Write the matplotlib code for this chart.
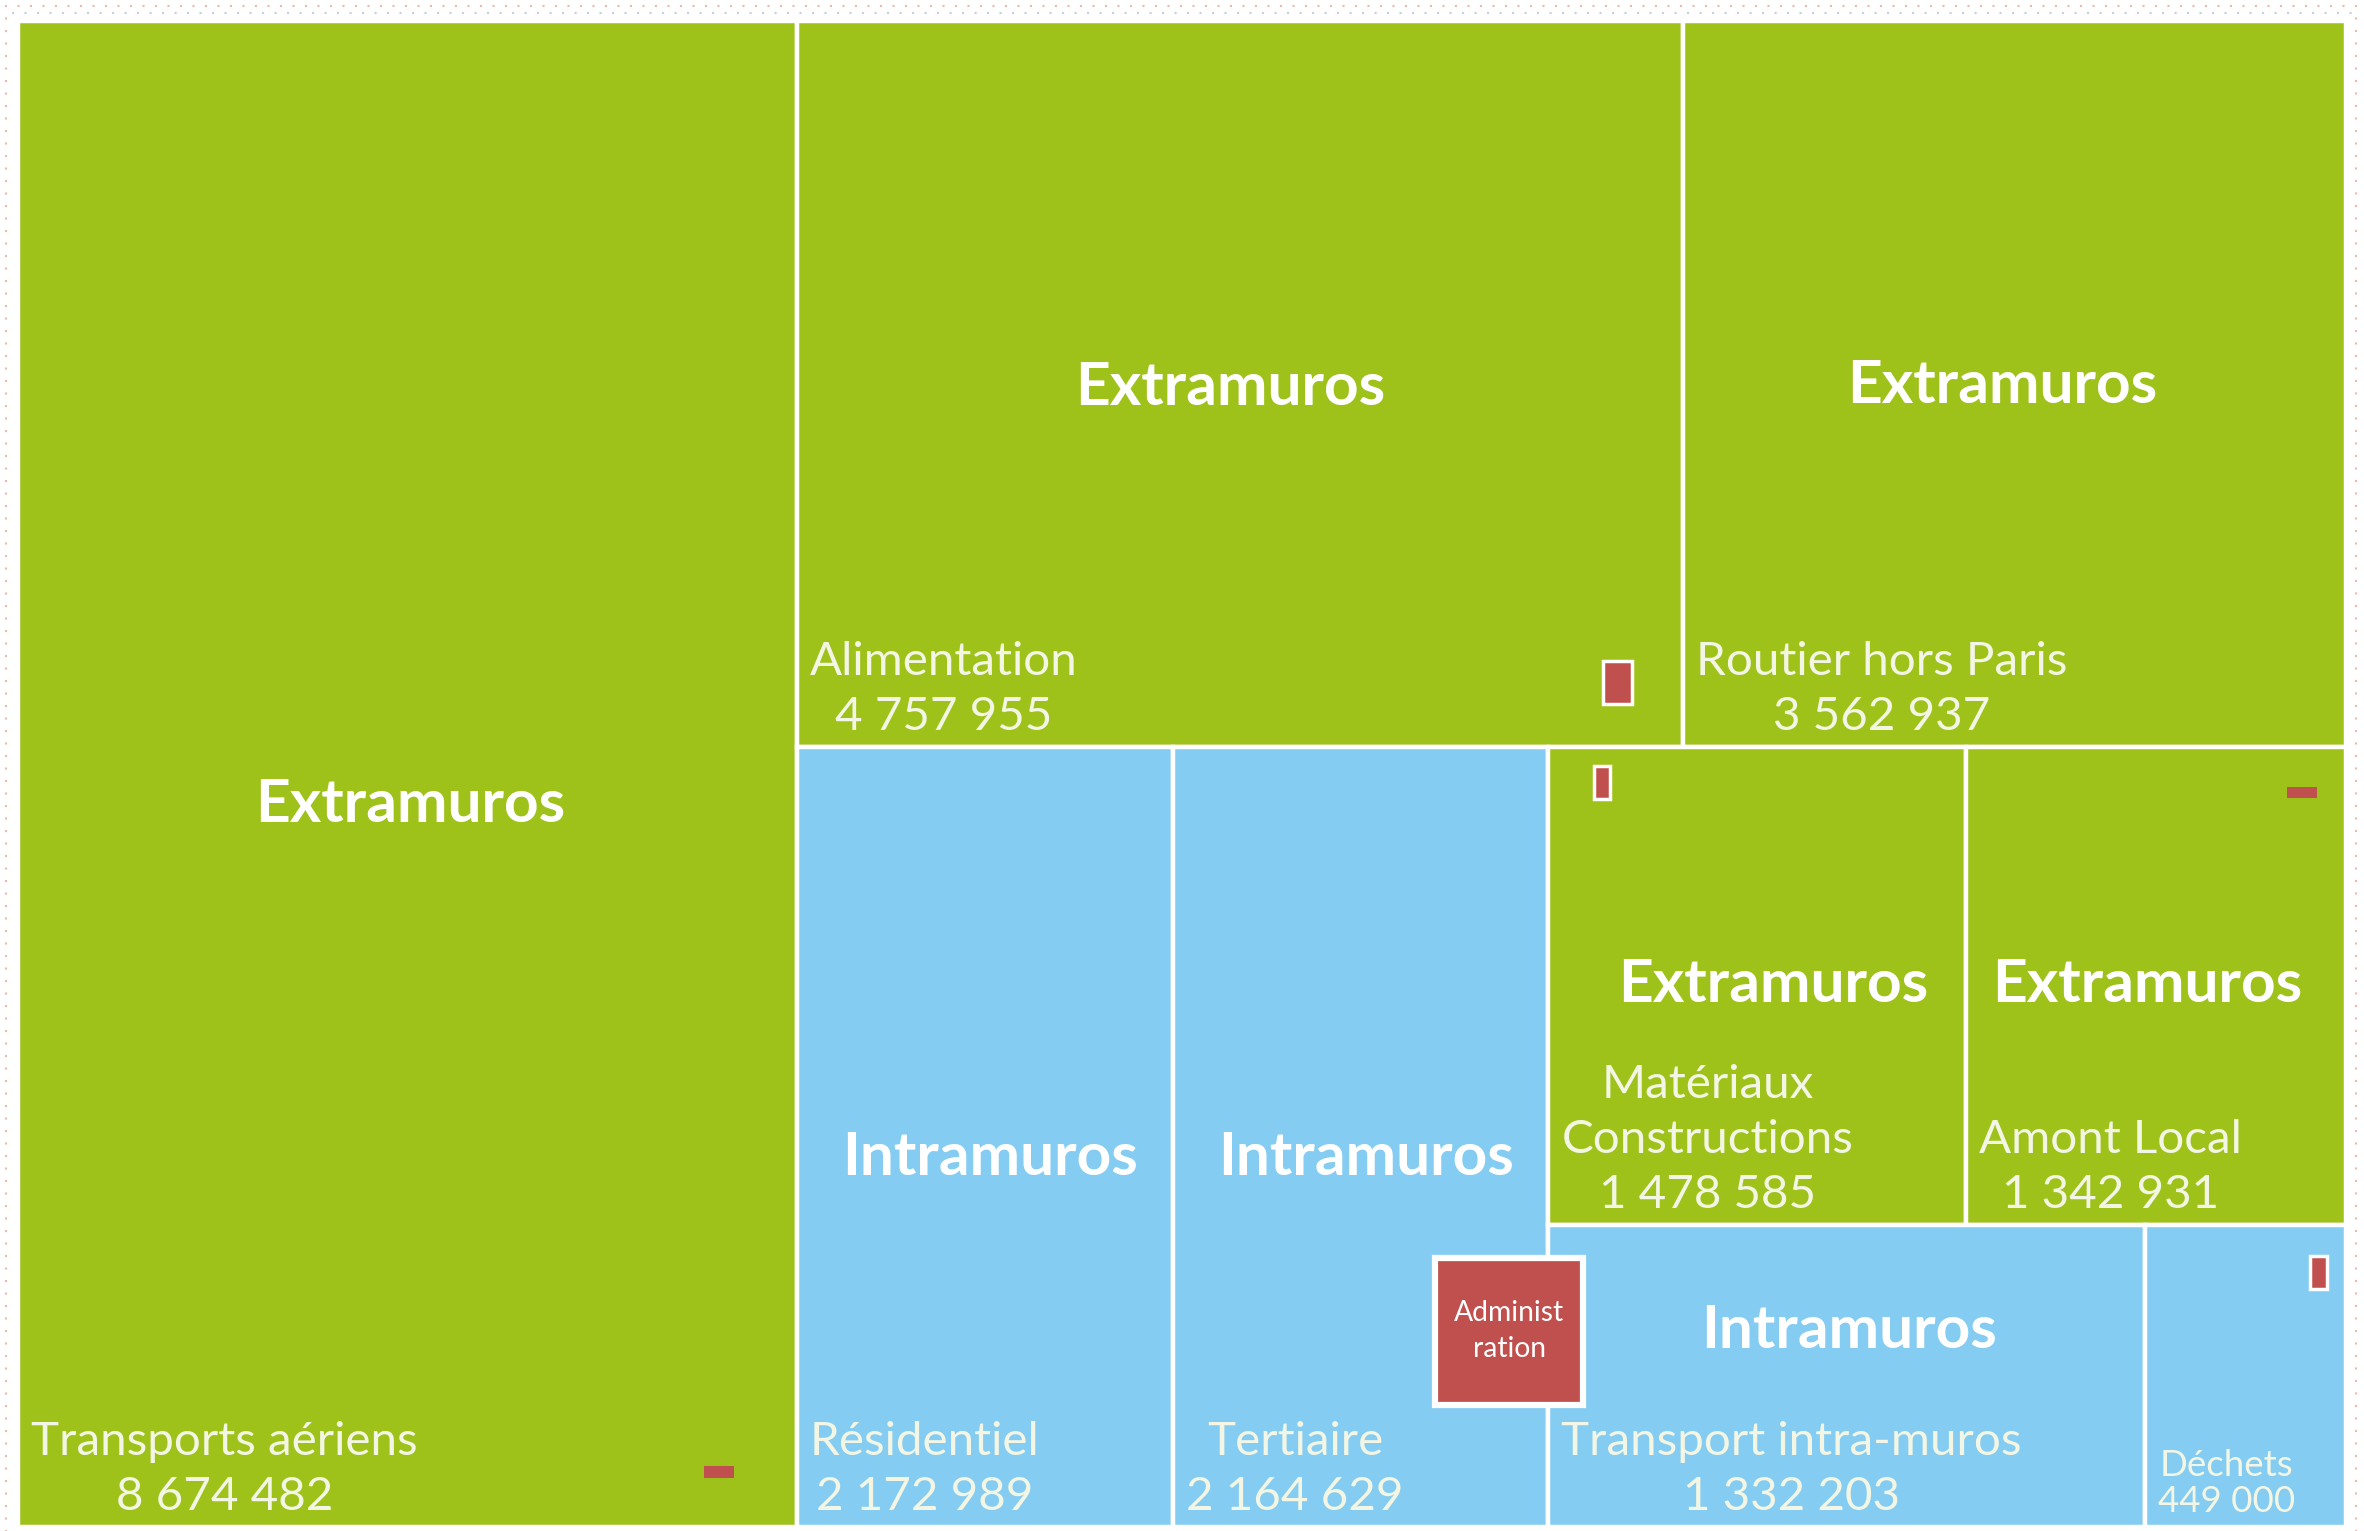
import matplotlib
matplotlib.use("Agg")
import matplotlib.pyplot as plt
from matplotlib.patches import Rectangle

# data
labels = ["Transports aériens", "Alimentation", "Routier hors Paris", "Résidentiel",
          "Tertiaire", "Matériaux\nConstructions", "Amont Local",
          "Transport intra-muros", "Déchets"]
values = [8674482, 4757955, 3562937, 2172989, 2164629, 1478585, 1342931, 1332203, 449000]
groups = ["Extramuros", "Extramuros", "Extramuros", "Intramuros", "Intramuros",
          "Extramuros", "Extramuros", "Intramuros", "Intramuros"]

group_colors = {"Extramuros": "#9FC21B", "Intramuros": "#84CCF1"}
red = "#C0504D"

# nesting of the treemap: 'h' = side by side, 'v' = stacked
layout = ("h", [0, ("v", [("h", [1, 2]),
                          ("h", [3, 4, ("v", [("h", [5, 6]), ("h", [7, 8])])])])])

# small nudges of the big group titles (px)
header_shift = [(3, 31), (-9, 4), (-12, 2), (5, 21), (5, 21), (16, -1), (-9, -1), (2, -45), (0, 0)]

plt.rcParams["font.family"] = ["Lato", "DejaVu Sans"]

W, H = 2328, 1506
fig = plt.figure(figsize=(23.64, 15.31), dpi=100)
ax = fig.add_axes([18 / 2364, 1 - 1527 / 1531, W / 2364, H / 1531])
ax.set_xlim(0, W)
ax.set_ylim(H, 0)
ax.axis("off")


def total(node):
    if isinstance(node, int):
        return values[node]
    return sum(total(c) for c in node[1])


rects = {}


def place(node, x, y, w, h):
    if isinstance(node, int):
        rects[node] = (x, y, w, h)
        return
    kind, children = node
    s = total(node)
    for c in children:
        frac = total(c) / s
        if kind == "h":
            place(c, x, y, w * frac, h)
            x += w * frac
        else:
            place(c, x, y, w, h * frac)
            y += h * frac


place(layout, 0, 0, W, H)

for i, (x, y, w, h) in rects.items():
    ax.add_patch(Rectangle((x, y), w, h, facecolor=group_colors[groups[i]],
                           edgecolor="white", linewidth=3.2))
    small = w < 300
    if not small:
        dx, dy = header_shift[i]
        ax.text(x + w / 2 + dx, y + h / 2 + dy, groups[i], ha="center", va="center",
                color="white", fontsize=43.5, fontweight="bold")
    txt = labels[i] + "\n" + f"{values[i]:,}".replace(",", " ")
    ax.text(x + 13, y + h - 9, txt, ha="left", va="bottom", multialignment="center",
            color="#F3F6E4", fontsize=26.5 if small else 34.2,
            linespacing=1.1 if small else 1.38)

# little red markers: host cell, corner, centre offset (px), size (px), white border
marks = [
    (1, "br", (-65, -64), (33, 47), True),
    (5, "tl", (54, 36), (20, 37), True),
    (6, "tr", (-44, 46), (30, 11), False),
    (0, "br", (-78, -55), (30, 12), False),
    (8, "tr", (-27, 47), (21, 37), True),
]


def corner(i, c):
    x, y, w, h = rects[i]
    cx = x + w if "r" in c else x
    cy = y + h if "b" in c else y
    return cx, cy


for host, c, (ox, oy), (mw, mh), border in marks:
    cx, cy = corner(host, c)
    cx, cy = cx + ox, cy + oy
    b = 4 if border else 0
    ax.add_patch(Rectangle((cx - mw / 2 + b / 2, cy - mh / 2 + b / 2), mw - b, mh - b,
                           facecolor=red, edgecolor="white" if border else red,
                           linewidth=2.5 if border else 0, zorder=3))

# Administration box sitting on the Tertiaire / Transport intra-muros corner
cx, cy = corner(7, "tl")
cx, cy = cx - 39, cy + 106
ax.add_patch(Rectangle((cx - 74, cy - 73), 148, 147, facecolor=red,
                       edgecolor="white", linewidth=4.5, zorder=4))
ax.text(cx, cy, "Administ\nration", ha="center", va="center", color="white",
        fontsize=20.3, linespacing=1.45, zorder=5)

# dotted frame around the slide
fig.add_artist(Rectangle((6 / 2364, -0.01), 2350 / 2364, 1 - 6 / 1531 + 0.01,
                         transform=fig.transFigure, fill=False, edgecolor="#EDB9A8",
                         linestyle=(0, (1, 5)), linewidth=1.5))
fig.add_artist(plt.Line2D([0.005, 0.995], [1 - 13 / 1531] * 2, transform=fig.transFigure,
                          color="#C9CCDA", linestyle=(0, (1, 5)), linewidth=1.5))

fig.savefig("out.png", dpi=100, facecolor="white")
